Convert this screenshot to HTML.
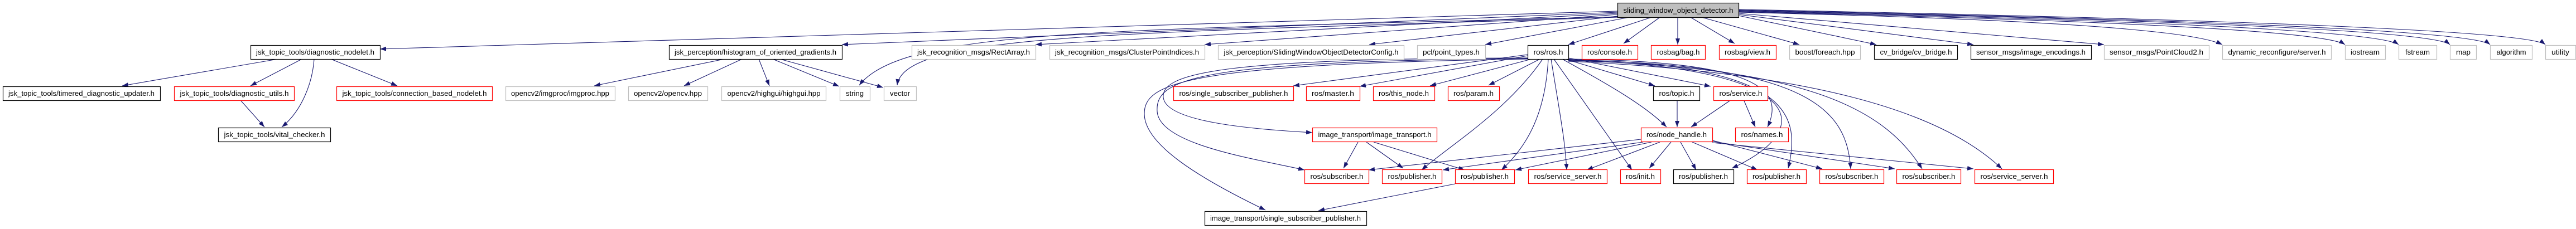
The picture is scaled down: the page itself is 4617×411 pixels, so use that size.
<!DOCTYPE html>
<html><head><meta charset="utf-8"><style>
html,body{margin:0;padding:0;background:#fff;}
svg{display:block;}
text{font-family:"Liberation Sans",Arial,sans-serif;font-size:13px;fill:#000;}
</style></head><body>
<svg width="4617" height="411" viewBox="0 0 4617 411" xmlns="http://www.w3.org/2000/svg">
<defs>
<marker id="a" markerUnits="userSpaceOnUse" markerWidth="11" markerHeight="8" refX="11" refY="4" orient="auto">
<path d="M0,0 L11,4 L0,8 z" fill="#191970"/>
</marker>
</defs>
<g fill="none" stroke="#191970" stroke-width="1.1" marker-end="url(#a)">
<!-- main -> row1 -->
<path d="M2899,20 L681,88"/>
<path d="M2899,22 L1509,80"/>
<path d="M2899,24 L1856,80"/>
<path d="M2899,26 L2159,80"/>
<path d="M2899,29 L2454,80"/>
<path d="M2920,31 L2662,80"/>
<path d="M2960,31 L2811,80"/>
<path d="M2975,31 L2910,78"/>
<path d="M3007,31 L3007,80"/>
<path d="M3030,31 L3109,78"/>
<path d="M3050,31 L3225,80"/>
<path d="M3116,28 L3363,80"/>
<path d="M3116,26 L3537,80"/>
<path d="M3116,24 L3771,80"/>
<path d="M3116,22 Q3900,40 3983,80"/>
<path d="M3116,21 Q4150,45 4203,80"/>
<path d="M3116,20 Q4250,45 4299,80"/>
<path d="M3116,19 Q4350,45 4391,80"/>
<path d="M3116,18 Q4420,45 4463,80"/>
<path d="M3116,17 Q4520,45 4562,80"/>
<path d="M2899,30 C2000,55 1620,50 1540,153"/>
<path d="M2899,31 C2000,60 1620,60 1608,153"/>
<!-- hog -->
<path d="M1298,106 L1065,154"/>
<path d="M1330,106 L1226,154"/>
<path d="M1360,106 L1379,154"/>
<path d="M1385,106 L1504,155"/>
<path d="M1398,106 L1583,157"/>
<!-- diag nodelet -->
<path d="M498,106 L219,154"/>
<path d="M541,106 L449,154"/>
<path d="M563,106 C560,150 540,200 505,228"/>
<path d="M593,106 L712,154"/>
<path d="M432,181 L474,228"/>
<!-- ros.h -->
<path d="M2738,98 L2318,154"/>
<path d="M2738,100 L2437,155"/>
<path d="M2745,106 L2563,154"/>
<path d="M2760,106 L2668,153"/>
<path d="M2738,104 C2200,105 2080,130 2085,175 S2250,232 2352,238"/>
<path d="M2738,105 C2150,110 2070,140 2074,200 S2250,285 2338,305"/>
<path d="M2738,106 C2120,115 2050,150 2051,205 S2150,320 2268,377"/>
<path d="M2765,106 C2700,200 2600,260 2548,305"/>
<path d="M2775,106 C2770,200 2740,260 2691,305"/>
<path d="M2780,106 C2795,200 2805,250 2808,305"/>
<path d="M2785,106 L2925,305"/>
<path d="M2800,106 C2880,150 2950,190 2987,228"/>
<path d="M2805,106 L2966,154"/>
<path d="M2811,104 L3066,155"/>
<path d="M2811,106 C3150,110 3200,160 3168,228"/>
<path d="M2811,107 C3200,115 3230,200 3205,302"/>
<path d="M2811,108 C3250,115 3310,200 3317,303"/>
<path d="M2811,109 C3250,120 3380,200 3445,303"/>
<path d="M2811,110 C3250,130 3480,200 3588,303"/>
<path d="M2811,108 C3240,120 3260,230 3104,302"/>
<!-- node_handle -->
<path d="M2941,250 L2453,305"/>
<path d="M2945,255 L2586,305"/>
<path d="M2960,255 L2716,305"/>
<path d="M2975,255 L2844,305"/>
<path d="M2995,255 L2956,302"/>
<path d="M3012,255 L3040,305"/>
<path d="M3033,255 L3150,305"/>
<path d="M3069,252 L3266,303"/>
<path d="M3069,254 L3396,303"/>
<path d="M3069,256 L3537,303"/>
<!-- image_transport -->
<path d="M2434,255 L2408,302"/>
<path d="M2449,255 L2515,302"/>
<path d="M2462,255 L2625,305"/>
<path d="M2608,330 L2363,378"/>
<!-- topic / service -->
<path d="M3006,181 L3006,228"/>
<path d="M3100,181 L3031,228"/>
<path d="M3126,181 L3146,228"/>
</g>
<g stroke-width="1.2">
<!-- row0 -->
<rect x="2899.5" y="5.5" width="217" height="26" fill="#bfbfbf" stroke="#000"/>
<text x="3008" y="23" text-anchor="middle" textLength="197" lengthAdjust="spacingAndGlyphs">sliding_window_object_detector.h</text>
<!-- row1 -->
<rect x="449.5" y="81.5" width="232" height="25" fill="#fff" stroke="#000"/>
<text x="565" y="98" text-anchor="middle" textLength="212" lengthAdjust="spacingAndGlyphs">jsk_topic_tools/diagnostic_nodelet.h</text>
<rect x="1199.5" y="81.5" width="310" height="25" fill="#fff" stroke="#000"/>
<text x="1354" y="98" text-anchor="middle" textLength="290" lengthAdjust="spacingAndGlyphs">jsk_perception/histogram_of_oriented_gradients.h</text>
<rect x="1634.5" y="81.5" width="222" height="25" fill="#fff" stroke="#bfbfbf"/>
<text x="1745" y="98" text-anchor="middle" textLength="202" lengthAdjust="spacingAndGlyphs">jsk_recognition_msgs/RectArray.h</text>
<rect x="1881.5" y="81.5" width="278" height="25" fill="#fff" stroke="#bfbfbf"/>
<text x="2020" y="98" text-anchor="middle" textLength="258" lengthAdjust="spacingAndGlyphs">jsk_recognition_msgs/ClusterPointIndices.h</text>
<rect x="2183.5" y="81.5" width="333" height="25" fill="#fff" stroke="#bfbfbf"/>
<text x="2350" y="98" text-anchor="middle" textLength="313" lengthAdjust="spacingAndGlyphs">jsk_perception/SlidingWindowObjectDetectorConfig.h</text>
<rect x="2540.5" y="81.5" width="122" height="25" fill="#fff" stroke="#bfbfbf"/>
<text x="2601" y="98" text-anchor="middle" textLength="102" lengthAdjust="spacingAndGlyphs">pcl/point_types.h</text>
<rect x="2738.5" y="81.5" width="73" height="25" fill="#fff" stroke="#000"/>
<text x="2775" y="98" text-anchor="middle" textLength="53" lengthAdjust="spacingAndGlyphs">ros/ros.h</text>
<rect x="2835.5" y="81.5" width="100" height="25" fill="#fff" stroke="#f00"/>
<text x="2885" y="98" text-anchor="middle" textLength="80" lengthAdjust="spacingAndGlyphs">ros/console.h</text>
<rect x="2959.5" y="81.5" width="97" height="25" fill="#fff" stroke="#f00"/>
<text x="3008" y="98" text-anchor="middle" textLength="77" lengthAdjust="spacingAndGlyphs">rosbag/bag.h</text>
<rect x="3081.5" y="81.5" width="102" height="25" fill="#fff" stroke="#f00"/>
<text x="3132" y="98" text-anchor="middle" textLength="82" lengthAdjust="spacingAndGlyphs">rosbag/view.h</text>
<rect x="3207.5" y="81.5" width="127" height="25" fill="#fff" stroke="#bfbfbf"/>
<text x="3271" y="98" text-anchor="middle" textLength="107" lengthAdjust="spacingAndGlyphs">boost/foreach.hpp</text>
<rect x="3359.5" y="81.5" width="149" height="25" fill="#fff" stroke="#000"/>
<text x="3434" y="98" text-anchor="middle" textLength="129" lengthAdjust="spacingAndGlyphs">cv_bridge/cv_bridge.h</text>
<rect x="3532.5" y="81.5" width="216" height="25" fill="#fff" stroke="#000"/>
<text x="3640" y="98" text-anchor="middle" textLength="196" lengthAdjust="spacingAndGlyphs">sensor_msgs/image_encodings.h</text>
<rect x="3771.5" y="81.5" width="188" height="25" fill="#fff" stroke="#bfbfbf"/>
<text x="3865" y="98" text-anchor="middle" textLength="168" lengthAdjust="spacingAndGlyphs">sensor_msgs/PointCloud2.h</text>
<rect x="3983.5" y="81.5" width="195" height="25" fill="#fff" stroke="#bfbfbf"/>
<text x="4081" y="98" text-anchor="middle" textLength="175" lengthAdjust="spacingAndGlyphs">dynamic_reconfigure/server.h</text>
<rect x="4203.5" y="81.5" width="72" height="25" fill="#fff" stroke="#bfbfbf"/>
<text x="4239" y="98" text-anchor="middle" textLength="52" lengthAdjust="spacingAndGlyphs">iostream</text>
<rect x="4299.5" y="81.5" width="68" height="25" fill="#fff" stroke="#bfbfbf"/>
<text x="4333" y="98" text-anchor="middle" textLength="44" lengthAdjust="spacingAndGlyphs">fstream</text>
<rect x="4391.5" y="81.5" width="47" height="25" fill="#fff" stroke="#bfbfbf"/>
<text x="4415" y="98" text-anchor="middle" textLength="26" lengthAdjust="spacingAndGlyphs">map</text>
<rect x="4463.5" y="81.5" width="75" height="25" fill="#fff" stroke="#bfbfbf"/>
<text x="4501" y="98" text-anchor="middle" textLength="53" lengthAdjust="spacingAndGlyphs">algorithm</text>
<rect x="4562.5" y="81.5" width="54" height="25" fill="#fff" stroke="#bfbfbf"/>
<text x="4589" y="98" text-anchor="middle" textLength="32" lengthAdjust="spacingAndGlyphs">utility</text>
<!-- row2 -->
<rect x="5.5" y="155.5" width="282" height="25" fill="#fff" stroke="#000"/>
<text x="146" y="172" text-anchor="middle" textLength="262" lengthAdjust="spacingAndGlyphs">jsk_topic_tools/timered_diagnostic_updater.h</text>
<rect x="312.5" y="155.5" width="215" height="25" fill="#fff" stroke="#f00"/>
<text x="420" y="172" text-anchor="middle" textLength="195" lengthAdjust="spacingAndGlyphs">jsk_topic_tools/diagnostic_utils.h</text>
<rect x="603.5" y="155.5" width="279" height="25" fill="#fff" stroke="#f00"/>
<text x="743" y="172" text-anchor="middle" textLength="259" lengthAdjust="spacingAndGlyphs">jsk_topic_tools/connection_based_nodelet.h</text>
<rect x="906.5" y="155.5" width="196" height="25" fill="#fff" stroke="#bfbfbf"/>
<text x="1004" y="172" text-anchor="middle" textLength="176" lengthAdjust="spacingAndGlyphs">opencv2/imgproc/imgproc.hpp</text>
<rect x="1126.5" y="155.5" width="142" height="25" fill="#fff" stroke="#bfbfbf"/>
<text x="1197" y="172" text-anchor="middle" textLength="122" lengthAdjust="spacingAndGlyphs">opencv2/opencv.hpp</text>
<rect x="1293.5" y="155.5" width="187" height="25" fill="#fff" stroke="#bfbfbf"/>
<text x="1387" y="172" text-anchor="middle" textLength="167" lengthAdjust="spacingAndGlyphs">opencv2/highgui/highgui.hpp</text>
<rect x="1505.5" y="155.5" width="54" height="25" fill="#fff" stroke="#bfbfbf"/>
<text x="1532" y="172" text-anchor="middle" textLength="32" lengthAdjust="spacingAndGlyphs">string</text>
<rect x="1584.5" y="155.5" width="58" height="25" fill="#fff" stroke="#bfbfbf"/>
<text x="1613" y="172" text-anchor="middle" textLength="36" lengthAdjust="spacingAndGlyphs">vector</text>
<rect x="2103.5" y="155.5" width="215" height="25" fill="#fff" stroke="#f00"/>
<text x="2211" y="172" text-anchor="middle" textLength="195" lengthAdjust="spacingAndGlyphs">ros/single_subscriber_publisher.h</text>
<rect x="2341.5" y="155.5" width="96" height="25" fill="#fff" stroke="#f00"/>
<text x="2389" y="172" text-anchor="middle" textLength="76" lengthAdjust="spacingAndGlyphs">ros/master.h</text>
<rect x="2461.5" y="155.5" width="110" height="25" fill="#fff" stroke="#f00"/>
<text x="2516" y="172" text-anchor="middle" textLength="90" lengthAdjust="spacingAndGlyphs">ros/this_node.h</text>
<rect x="2595.5" y="155.5" width="92" height="25" fill="#fff" stroke="#f00"/>
<text x="2641" y="172" text-anchor="middle" textLength="72" lengthAdjust="spacingAndGlyphs">ros/param.h</text>
<rect x="2963.5" y="155.5" width="83" height="25" fill="#fff" stroke="#000"/>
<text x="3005" y="172" text-anchor="middle" textLength="63" lengthAdjust="spacingAndGlyphs">ros/topic.h</text>
<rect x="3071.5" y="155.5" width="97" height="25" fill="#fff" stroke="#f00"/>
<text x="3120" y="172" text-anchor="middle" textLength="77" lengthAdjust="spacingAndGlyphs">ros/service.h</text>
<!-- row3 -->
<rect x="391.5" y="229.5" width="201" height="25" fill="#fff" stroke="#000"/>
<text x="492" y="246" text-anchor="middle" textLength="181" lengthAdjust="spacingAndGlyphs">jsk_topic_tools/vital_checker.h</text>
<rect x="2352.5" y="229.5" width="223" height="25" fill="#fff" stroke="#f00"/>
<text x="2464" y="246" text-anchor="middle" textLength="203" lengthAdjust="spacingAndGlyphs">image_transport/image_transport.h</text>
<rect x="2941.5" y="229.5" width="128" height="25" fill="#fff" stroke="#f00"/>
<text x="3005" y="246" text-anchor="middle" textLength="108" lengthAdjust="spacingAndGlyphs">ros/node_handle.h</text>
<rect x="3110.5" y="229.5" width="95" height="25" fill="#fff" stroke="#f00"/>
<text x="3158" y="246" text-anchor="middle" textLength="75" lengthAdjust="spacingAndGlyphs">ros/names.h</text>
<!-- row4 -->
<rect x="2338.5" y="304.5" width="115" height="25" fill="#fff" stroke="#f00"/>
<text x="2396" y="321" text-anchor="middle" textLength="95" lengthAdjust="spacingAndGlyphs">ros/subscriber.h</text>
<rect x="2477.5" y="304.5" width="107" height="25" fill="#fff" stroke="#f00"/>
<text x="2531" y="321" text-anchor="middle" textLength="87" lengthAdjust="spacingAndGlyphs">ros/publisher.h</text>
<rect x="2608.5" y="304.5" width="106" height="25" fill="#fff" stroke="#f00"/>
<text x="2661" y="321" text-anchor="middle" textLength="86" lengthAdjust="spacingAndGlyphs">ros/publisher.h</text>
<rect x="2739.5" y="304.5" width="141" height="25" fill="#fff" stroke="#f00"/>
<text x="2810" y="321" text-anchor="middle" textLength="121" lengthAdjust="spacingAndGlyphs">ros/service_server.h</text>
<rect x="2904.5" y="304.5" width="72" height="25" fill="#fff" stroke="#f00"/>
<text x="2940" y="321" text-anchor="middle" textLength="52" lengthAdjust="spacingAndGlyphs">ros/init.h</text>
<rect x="2999.5" y="304.5" width="108" height="25" fill="#fff" stroke="#000"/>
<text x="3053" y="321" text-anchor="middle" textLength="88" lengthAdjust="spacingAndGlyphs">ros/publisher.h</text>
<rect x="3131.5" y="304.5" width="106" height="25" fill="#fff" stroke="#f00"/>
<text x="3184" y="321" text-anchor="middle" textLength="86" lengthAdjust="spacingAndGlyphs">ros/publisher.h</text>
<rect x="3261.5" y="304.5" width="115" height="25" fill="#fff" stroke="#f00"/>
<text x="3319" y="321" text-anchor="middle" textLength="95" lengthAdjust="spacingAndGlyphs">ros/subscriber.h</text>
<rect x="3399.5" y="304.5" width="115" height="25" fill="#fff" stroke="#f00"/>
<text x="3457" y="321" text-anchor="middle" textLength="95" lengthAdjust="spacingAndGlyphs">ros/subscriber.h</text>
<rect x="3539.5" y="304.5" width="141" height="25" fill="#fff" stroke="#f00"/>
<text x="3610" y="321" text-anchor="middle" textLength="121" lengthAdjust="spacingAndGlyphs">ros/service_server.h</text>
<!-- row5 -->
<rect x="2159.5" y="379.5" width="290" height="25" fill="#fff" stroke="#000"/>
<text x="2304" y="396" text-anchor="middle" textLength="270" lengthAdjust="spacingAndGlyphs">image_transport/single_subscriber_publisher.h</text>
</g>
</svg>
</body></html>
